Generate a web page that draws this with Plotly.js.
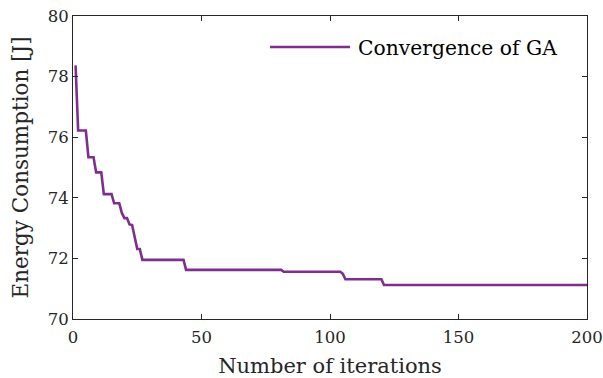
<!DOCTYPE html>
<html>
<head>
<meta charset="utf-8">
<script src="https://cdn.plot.ly/plotly-3.0.1.min.js"></script>
<style>
  html, body { margin: 0; padding: 0; background: #fff; }
  #chart { width: 603px; height: 378px; }
</style>
</head>
<body>
<div id="chart"></div>
<script>
// Best energy found by the genetic algorithm at each iteration (1..200)
const iterations = Array.from({length: 200}, (_, i) => i + 1);
const bestEnergy = [
  78.37, 76.22, 76.22, 76.22, 76.22, 75.34, 75.34, 75.34, 74.84, 74.84,
  74.84, 74.12, 74.12, 74.12, 74.12, 73.82, 73.82, 73.82, 73.50, 73.33,
  73.33, 73.12, 73.10, 72.70, 72.31, 72.31, 71.95, 71.95, 71.95, 71.95,
  71.95, 71.95, 71.95, 71.95, 71.95, 71.95, 71.95, 71.95, 71.95, 71.95,
  71.95, 71.95, 71.95, 71.62, 71.62, 71.62, 71.62, 71.62, 71.62, 71.62,
  71.62, 71.62, 71.62, 71.62, 71.62, 71.62, 71.62, 71.62, 71.62, 71.62,
  71.62, 71.62, 71.62, 71.62, 71.62, 71.62, 71.62, 71.62, 71.62, 71.62,
  71.62, 71.62, 71.62, 71.62, 71.62, 71.62, 71.62, 71.62, 71.62, 71.62,
  71.62, 71.56, 71.56, 71.56, 71.56, 71.56, 71.56, 71.56, 71.56, 71.56,
  71.56, 71.56, 71.56, 71.56, 71.56, 71.56, 71.56, 71.56, 71.56, 71.56,
  71.56, 71.56, 71.56, 71.56, 71.49, 71.31, 71.31, 71.31, 71.31, 71.31,
  71.31, 71.31, 71.31, 71.31, 71.31, 71.31, 71.31, 71.31, 71.31, 71.31,
  71.12, 71.12, 71.12, 71.12, 71.12, 71.12, 71.12, 71.12, 71.12, 71.12,
  71.12, 71.12, 71.12, 71.12, 71.12, 71.12, 71.12, 71.12, 71.12, 71.12,
  71.12, 71.12, 71.12, 71.12, 71.12, 71.12, 71.12, 71.12, 71.12, 71.12,
  71.12, 71.12, 71.12, 71.12, 71.12, 71.12, 71.12, 71.12, 71.12, 71.12,
  71.12, 71.12, 71.12, 71.12, 71.12, 71.12, 71.12, 71.12, 71.12, 71.12,
  71.12, 71.12, 71.12, 71.12, 71.12, 71.12, 71.12, 71.12, 71.12, 71.12,
  71.12, 71.12, 71.12, 71.12, 71.12, 71.12, 71.12, 71.12, 71.12, 71.12,
  71.12, 71.12, 71.12, 71.12, 71.12, 71.12, 71.12, 71.12, 71.12, 71.12
];
const seriesName = 'Convergence of GA';
const xTicks = [0, 50, 100, 150, 200];
const yTicks = [70, 72, 74, 76, 78, 80];

const lineColor = '#7E2F8E';
const axisColor = '#262626';
const serif = '"DejaVu Serif", "Liberation Serif", serif';

const trace = {
  x: iterations,
  y: bestEnergy,
  type: 'scatter',
  mode: 'lines',
  name: seriesName,
  line: {color: lineColor, width: 2.6},
  showlegend: false,
  hoverinfo: 'x+y'
};

const axisCommon = {
  showgrid: false,
  zeroline: false,
  showline: true,
  mirror: 'ticks',
  linecolor: axisColor,
  linewidth: 1,
  ticks: 'inside',
  ticklen: 5,
  tickwidth: 1,
  tickcolor: axisColor,
  tickfont: {family: serif, size: 16.5, color: axisColor}
};

const layout = {
  width: 603,
  height: 378,
  margin: {l: 73, r: 16, t: 16, b: 59},
  paper_bgcolor: '#ffffff',
  plot_bgcolor: '#ffffff',
  font: {family: serif, color: axisColor},
  xaxis: Object.assign({}, axisCommon, {
    range: [0, 200],
    tickvals: xTicks,
    ticktext: xTicks.map(String),
    ticklabelstandoff: 3,
    title: {text: 'Number of iterations', font: {family: serif, size: 21, color: axisColor}, standoff: 14}
  }),
  yaxis: Object.assign({}, axisCommon, {
    range: [70, 80],
    tickvals: yTicks,
    ticktext: yTicks.map(String),
    title: {text: 'Energy Consumption [J]', font: {family: serif, size: 21.5, color: axisColor}, standoff: 13}
  }),
  shapes: [{
    type: 'line', xref: 'paper', yref: 'paper',
    x0: (270 - 73) / 514, x1: (350 - 73) / 514,
    y0: (319 - 47) / 303, y1: (319 - 47) / 303,
    line: {color: lineColor, width: 2.6}
  }],
  annotations: [{
    xref: 'paper', yref: 'paper',
    x: (356 - 73) / 514, y: (319 - 48) / 303,
    xanchor: 'left', yanchor: 'middle',
    text: seriesName, showarrow: false,
    font: {family: serif, size: 20.3, color: '#000'}
  }]
};

Plotly.newPlot('chart', [trace], layout, {displayModeBar: false, staticPlot: true});
</script>
</body>
</html>
